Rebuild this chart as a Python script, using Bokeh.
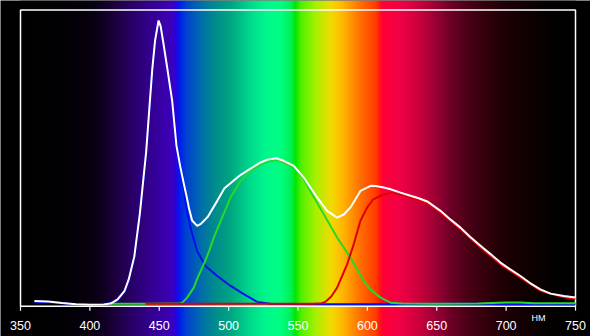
import numpy as np
from bokeh.plotting import figure
from bokeh.models import Range1d
from bokeh.core.properties import value
from bokeh.embed import file_html
from bokeh.resources import INLINE

# ---------------- data ----------------
white_nm = [360, 370, 380, 390, 400, 410, 415, 420, 425, 428, 432, 436, 440.6, 443, 445, 447, 449.5,
            451, 453, 455.7, 459.3, 462.4, 465, 467.7, 470, 471.3, 473.7, 477.3, 480, 485, 491.8, 497,
            503.5, 508, 513.4, 518, 523, 528, 534.5, 540, 547, 554.2, 558, 563.8, 571, 578.2, 583,
            587.8, 595, 602.3, 606, 611.8, 616.7, 623.9, 631.1, 637, 643.1, 652.7, 660, 667.1, 674,
            681.5, 689, 695.9, 703, 710.3, 717, 724.7, 732, 741.6, 750]
white_v = [0.014, 0.012, 0.007, 0.003, 0.001, 0.002, 0.005, 0.02, 0.05, 0.09, 0.17, 0.32, 0.54, 0.70,
           0.83, 0.93, 1.0, 0.98, 0.92, 0.835, 0.718, 0.56, 0.49, 0.426, 0.375, 0.343, 0.297, 0.278,
           0.285, 0.31, 0.366, 0.41, 0.437, 0.455, 0.472, 0.486, 0.501, 0.511, 0.516, 0.506, 0.489,
           0.448, 0.42, 0.378, 0.331, 0.307, 0.318, 0.343, 0.401, 0.419, 0.418, 0.413, 0.407, 0.395,
           0.384, 0.375, 0.364, 0.331, 0.30, 0.272, 0.24, 0.208, 0.178, 0.149, 0.125, 0.102, 0.078,
           0.055, 0.040, 0.032, 0.026]

blue_nm = [360, 370, 380, 390, 400, 410, 420, 425, 428, 432, 436, 440.6, 443, 445, 447, 449.5, 451,
           453, 455.7, 459.3, 462.4, 465, 467.7, 470, 472.5, 477.3, 483.3, 491.8, 501.4, 510.9,
           520.6, 530, 560, 600, 660, 680, 700, 750]
blue_v = [0.010, 0.010, 0.006, 0.003, 0.002, 0.002, 0.015, 0.045, 0.085, 0.165, 0.315, 0.535, 0.70,
          0.83, 0.93, 0.995, 0.975, 0.915, 0.83, 0.71, 0.55, 0.475, 0.40, 0.33, 0.272, 0.19, 0.137,
          0.102, 0.067, 0.038, 0.011, 0.004, 0.003, 0.003, 0.004, 0.004, 0.003, 0.003]

green_nm = [415, 440, 465, 467, 470, 474.9, 478, 482.1, 486, 489.3, 495.3, 501.4, 508.6, 515.8, 522,
            528, 534.5, 540, 547, 554, 560, 568.6, 578.2, 587.8, 597.4, 602, 609.5, 616.7, 625, 650,
            680, 690, 700, 710, 720, 750]
green_v = [0.004, 0.004, 0.005, 0.01, 0.025, 0.061, 0.10, 0.143, 0.19, 0.237, 0.307, 0.378, 0.437,
           0.472, 0.49, 0.503, 0.51, 0.50, 0.485, 0.445, 0.39, 0.319, 0.237, 0.167, 0.085, 0.055,
           0.026, 0.008, 0.005, 0.004, 0.005, 0.007, 0.009, 0.009, 0.006, 0.006]

red_nm = [440, 560, 567, 570, 574, 578.2, 585.4, 590.2, 595, 599.9, 604, 609.5, 616.7, 623.9, 631.1,
          643.1, 652.7, 667.1, 681.5, 695.9, 710.3, 724.7, 741.6, 750]
red_v = [0.004, 0.004, 0.006, 0.012, 0.03, 0.061, 0.143, 0.214, 0.296, 0.343, 0.37, 0.384, 0.395,
         0.388, 0.378, 0.358, 0.325, 0.266, 0.202, 0.143, 0.096, 0.05, 0.027, 0.022]

tick_nm = [350, 400, 450, 500, 550, 600, 650, 700, 750]
tick_labels = ["350", "400", "450", "500", "550", "600", "650", "700", "750"]
unit_label = "НМ"

# spectrum background colour stops (styling)
spec_nm = [350, 385, 400, 408, 415, 429, 444, 458, 461.5, 464, 469, 480, 490, 501, 516, 527, 537,
           544.5, 548, 552, 563, 573.5, 580.5, 595, 606, 609, 611, 624, 638, 653, 660, 674, 689,
           703, 718, 732, 745, 750]
spec_rgb = [(0, 0, 0), (3, 0, 6), (8, 0, 16), (15, 0, 30), (25, 0, 52), (40, 0, 100), (52, 0, 145),
            (60, 0, 185), (48, 0, 215), (0, 25, 240), (0, 65, 210), (0, 110, 170), (0, 140, 140),
            (0, 165, 130), (0, 220, 140), (0, 248, 140), (0, 255, 130), (0, 242, 90), (0, 230, 0),
            (80, 240, 0), (170, 240, 0), (240, 220, 0), (255, 190, 0), (255, 110, 0), (255, 60, 0),
            (255, 20, 20), (255, 0, 55), (240, 0, 70), (200, 0, 60), (140, 0, 50), (110, 0, 38),
            (70, 0, 20), (45, 0, 10), (25, 0, 5), (15, 0, 0), (5, 0, 0), (0, 0, 0), (0, 0, 0)]

# ---------------- layout ----------------
W, H = 590, 336
px_per_nm = 555 / 400.0
x0 = 350 - 20 / px_per_nm
x1 = x0 + W / px_per_nm
px_per_unit = 284.5
base_px = 304.5
y1 = base_px / px_per_unit
y0 = -(H - base_px) / px_per_unit
frame_top = (base_px - 9.5) / px_per_unit

p = figure(width=W, height=H, output_backend="svg", toolbar_location=None,
           x_axis_type=None, y_axis_type=None, min_border=0,
           x_range=Range1d(x0, x1), y_range=Range1d(y0, y1))
p.background_fill_color = "black"
p.border_fill_color = "black"
p.outline_line_color = None
p.xgrid.visible = False
p.ygrid.visible = False

# spectrum gradient
N = 1110
xs = np.linspace(350, 750, N)
sr = np.array(spec_rgb, dtype=float)
img = np.zeros((2, N, 4), dtype=np.uint8)
for c in range(3):
    img[:, :, c] = np.interp(xs, spec_nm, sr[:, c]).astype(np.uint8)[None, :]
img[:, :, 3] = 255
p.image_rgba(image=[img.view(np.uint32).reshape(2, N)], x=350, y=y0, dw=400, dh=y1 - y0)

# frame and axis
p.line([350, 350, 750, 750], [-0.004, frame_top, frame_top, -0.004], line_color="white", line_width=1.5)
p.line([350, 750], [-0.004, -0.004], line_color="white", line_width=1.5)
p.segment(x0=tick_nm, y0=[-0.004] * len(tick_nm), x1=tick_nm, y1=[-0.02] * len(tick_nm),
          line_color="white", line_width=1.2)
p.text(x=tick_nm, y=[-0.073] * len(tick_nm), text=tick_labels, text_color="white",
       text_font=value("Liberation Sans"), text_font_size="12.5px",
       text_align="center", text_baseline="middle")
p.text(x=[723.3], y=[-0.047], text=[unit_label], text_color="white",
       text_font=value("Liberation Sans"), text_font_size="9px",
       text_align="center", text_baseline="middle")

# curves
p.line(blue_nm, blue_v, line_color="#0010f0", line_width=2)
p.line(green_nm, green_v, line_color="#28d828", line_width=2)
p.line(red_nm, red_v, line_color="#e00000", line_width=2)
p.line(white_nm, white_v, line_color="white", line_width=2)

open("out.html", "w").write(file_html(p, INLINE))
